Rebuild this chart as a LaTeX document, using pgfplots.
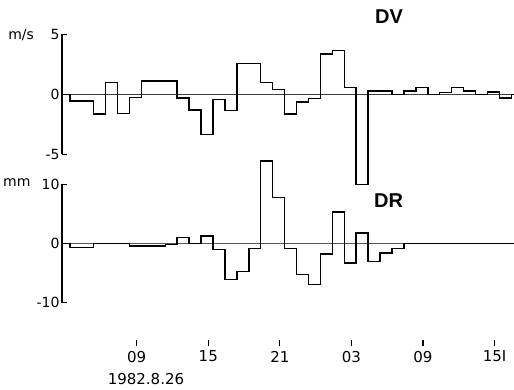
\documentclass[border=0pt]{standalone}
\usepackage{pgfplots}
\pgfplotsset{compat=1.18}
\usepackage{fontspec}
\setmainfont{DejaVu Sans}
\newfontfamily\labfont{Liberation Sans}
\begin{document}
\begin{tikzpicture}[x=1pt,y=1pt]
\path[use as bounding box] (0,0) rectangle (514,389);
\pgfplotsset{
  panel/.style={
    scale only axis, width=452pt, xmin=2.74, xmax=40.63, clip=false,
    axis x line=none, axis y line=left,
    y axis line style={-, line width=1.3pt, black},
    tick align=inside, major tick length=5pt,
    every tick/.style={line width=1.3pt, black},
    yticklabel style={font=\fontsize{14}{14}\selectfont, xshift=1pt},
    /pgf/number format/assume math mode=true,
  }
}
% DV panel
\begin{axis}[panel, height=120pt, ymin=-5, ymax=5, ytick={-5,0,5},
  at={(62pt,234.7pt)}, anchor=south west]
\addplot[line width=0.8pt, black!75] coordinates {(2.74,0) (40.63,0)};
\addplot[const plot, line width=1.5pt, black] coordinates {
(2.74,0) (3.4,-0.55) (4.4,-0.55) (5.4,-1.65) (6.4,0.97) (7.4,-1.6) (8.4,-0.25)
(9.4,1.1) (10.4,1.1) (11.4,1.1) (12.4,-0.3) (13.4,-1.3) (14.4,-3.33) (15.4,-0.42)
(16.4,-1.36) (17.4,2.58) (18.4,2.58) (19.4,0.97) (20.4,0.42) (21.4,-1.64) (22.4,-0.64)
(23.4,-0.36) (24.4,3.36) (25.4,3.63) (26.4,0.55) (27.4,-7.5) (28.4,0.28) (29.4,0.28)
(30.4,0) (31.4,0.28) (32.4,0.55) (33.4,0) (34.4,0.15) (35.4,0.55) (36.4,0.28)
(37.4,0) (38.4,0.2) (39.4,-0.3) (40.4,0) (40.63,0)};
\end{axis}
% DR panel
\begin{axis}[panel, height=118.4pt, ymin=-10, ymax=10, ytick={-10,0,10},
  at={(62pt,86.3pt)}, anchor=south west]
\addplot[line width=1pt, black!65] coordinates {(2.74,0) (40.63,0)};
\addplot[const plot, line width=1.5pt, black] coordinates {
(2.74,0) (3.4,-0.7) (4.4,-0.7) (5.4,0) (6.4,0) (7.4,0) (8.4,-0.4) (9.4,-0.4)
(10.4,-0.45) (11.4,-0.2) (12.4,1.0) (13.4,0) (14.4,1.28) (15.4,-1.0) (16.4,-6.1)
(17.4,-4.73) (18.4,-0.85) (19.4,13.9) (20.4,7.77) (21.4,-0.85) (22.4,-5.2)
(23.4,-6.9) (24.4,-1.8) (25.4,5.3) (26.4,-3.27) (27.4,1.8) (28.4,-3.0)
(29.4,-1.6) (30.4,-0.85) (31.4,0) (40.63,0)};
\end{axis}
% time axis
\begin{axis}[scale only axis, width=452pt, height=10pt, at={(62pt,43pt)}, anchor=south west,
  xmin=2.74, xmax=40.63, ymin=0, ymax=1, clip=false,
  axis x line=bottom, axis y line=none, x axis line style={draw=none,-},
  xtick={9,15,21,27,33,39}, xticklabels={09,15,21,03,09,15I},
  tick align=inside, major tick length=6pt,
  every tick/.style={line width=1.3pt, black},
  xticklabel style={font=\fontsize{15}{15}\selectfont, yshift=-1.5pt},
  /pgf/number format/assume math mode=true]
\addplot[draw=none] coordinates {(9,0.5)};
\node[font=\fontsize{15}{15}\selectfont] at (axis cs:9.78,0) [yshift=-33pt] {1982.8.26};
\end{axis}
\node[font=\fontsize{14}{14}\selectfont, anchor=base east] at (37.5,349) {m/s};
\node[font=\fontsize{14}{14}\selectfont, anchor=base east] at (34,203) {mm};
\node[font=\labfont\bfseries\fontsize{20}{20}\selectfont] at (389,372) {DV};
\node[font=\labfont\bfseries\fontsize{20}{20}\selectfont] at (388.5,188.5) {DR};
\end{tikzpicture}
\end{document}
